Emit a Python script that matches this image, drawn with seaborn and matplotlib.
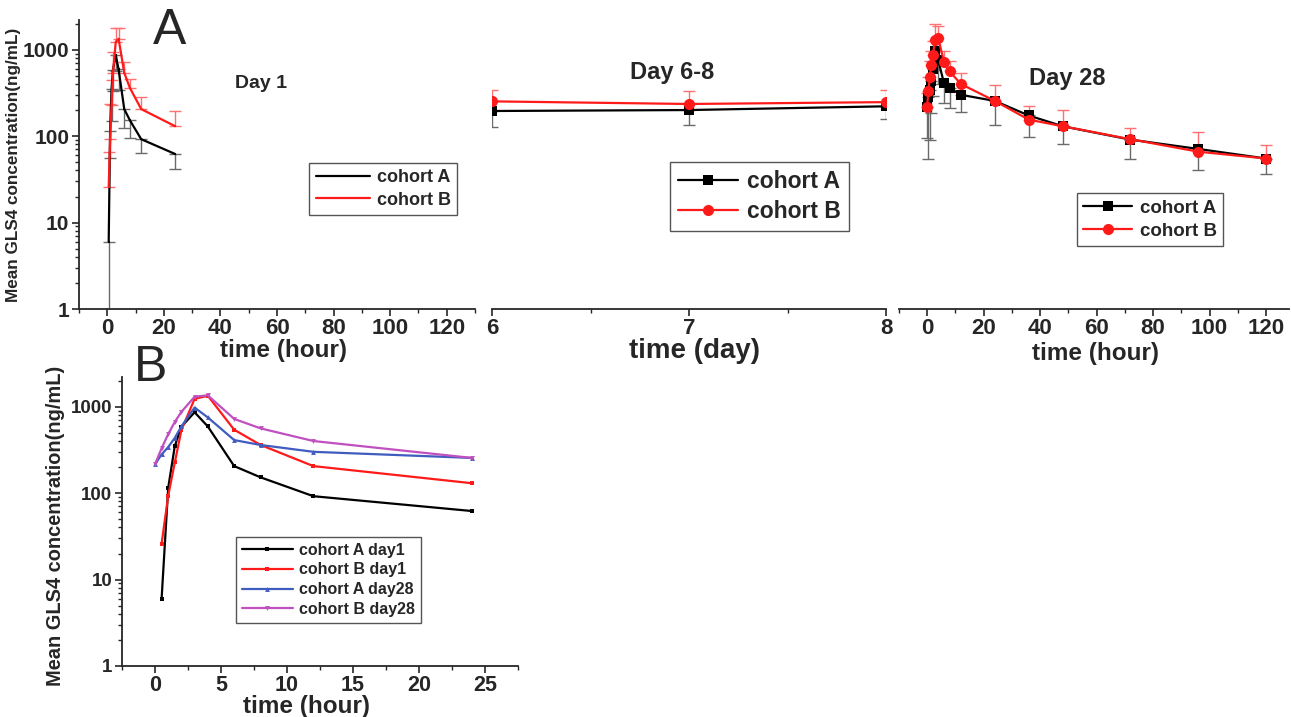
import numpy as np
import pandas as pd
import matplotlib
matplotlib.use("Agg")
import matplotlib.pyplot as plt
import seaborn as sns
from matplotlib.ticker import MultipleLocator, FixedLocator, NullFormatter

# ---------------- data ----------------
day1_time = [0.5, 1, 1.5, 2, 3, 4, 6, 8, 12, 24]
day1_a = [6, 115, 350, 585, 860, 590, 205, 152, 92, 62]
day1_b = [26, 93, 226, 535, 1230, 1335, 540, 360, 205, 130]
day1_a_sd = [5.5, 59, 200, 250, 300, 250, 82, 56, 28, 20]
day1_b_sd = [40, 140, 215, 415, 560, 455, 175, 100, 78, 65]

d68_day = [6, 7, 8]
d68_a = [195, 200, 221]
d68_b = [252, 235, 247]
d68_a_sd = [68, 65, 65]
d68_b_sd = [93, 95, 98]

day28_time = [0, 0.5, 1, 1.5, 2, 3, 4, 6, 8, 12, 24, 36, 48, 72, 96, 120]
day28_a = [215, 280, 340, 435, 590, 975, 750, 410, 360, 300, 255, 173, 130, 91, 71, 55]
day28_b = [215, 330, 480, 665, 870, 1300, 1350, 720, 560, 400, 255, 155, 130, 92, 66, 55]
day28_a_sd = [120, 225, 250, 250, 300, 400, 350, 170, 150, 110, 120, 75, 50, 37, 30, 19]
day28_b_sd = [100, 150, 250, 300, 400, 680, 550, 235, 180, 130, 130, 66, 69, 33, 44, 23]

ytick_vals = [1, 10, 100, 1000]
ytick_labels = ["1", "10", "100", "1000"]
ylabel = "Mean GLS4 concentration(ng/mL)"

# ---------------- style ----------------
sns.set_theme(style="ticks")
plt.rcParams["font.family"] = ["Liberation Sans", "DejaVu Sans"]
plt.rcParams["font.weight"] = "bold"
plt.rcParams["axes.labelweight"] = "bold"
plt.rcParams["axes.linewidth"] = 1.3

BLACK = "#000000"
RED = "#ff1a1a"
BLUE = "#3f5cbf"
PURPLE = "#c050c0"
ERR_K = "#6a6a6a"
ERR_R = "#ff7070"

W, H = 1291, 717
fig = plt.figure(figsize=(W / 100, H / 100), dpi=100)


def fx(px):
    return px / W


def fy(py):
    return 1 - py / H


def make_ax(left_px, right_px, top_px, bottom_px):
    return fig.add_axes([fx(left_px), fy(bottom_px),
                         (right_px - left_px) / W, (bottom_px - top_px) / H])


def style_axis(ax, show_y=True, xsize=16, ysize=15):
    ax.set_yscale("log")
    ax.set_ylim(1, 2200)
    sns.despine(ax=ax, top=True, right=True, left=not show_y)
    ax.tick_params(axis="both", which="major", direction="out", length=5, width=1.2, pad=2)
    ax.tick_params(axis="x", which="major", labelsize=xsize, pad=1.5)
    ax.tick_params(axis="both", which="minor", direction="out", length=3, width=1.0)
    if show_y:
        ax.set_yticks(ytick_vals)
        ax.set_yticklabels(ytick_labels, fontsize=ysize, fontweight="bold")
        ax.yaxis.set_minor_locator(FixedLocator(
            [m * 10 ** e for e in range(0, 4) for m in range(2, 10)]))
        ax.yaxis.set_minor_formatter(NullFormatter())
    else:
        ax.set_yticks([])
        ax.yaxis.set_minor_locator(FixedLocator([]))
    for lab in ax.get_xticklabels():
        lab.set_fontweight("bold")
    ax.set_facecolor("none")


def set_xlabel(ax, text, size, x, y):
    ax.set_xlabel(text, fontsize=size, fontweight="bold")
    ax.xaxis.label.set_va("center")
    ax.xaxis.set_label_coords(x, y)


def err_low(ax, t, v, sd, color):
    ax.errorbar(t, v, yerr=[sd, np.zeros(len(sd))], fmt="none", ecolor=color,
                elinewidth=1.0, capsize=4, capthick=1.0, zorder=1)


def err_up(ax, t, v, sd, color):
    ax.errorbar(t, v, yerr=[np.zeros(len(sd)), sd], fmt="none", ecolor=color,
                elinewidth=1.0, capsize=4, capthick=1.0, zorder=1)


def legend(ax, x, y, size, hl=3.0):
    leg = ax.legend(loc="upper left", bbox_to_anchor=(x, y), fontsize=size,
                    frameon=True, fancybox=False, framealpha=1, edgecolor="#555555",
                    handlelength=hl, borderpad=0.35, labelspacing=0.3,
                    handletextpad=0.4, borderaxespad=0)
    leg.get_frame().set_linewidth(1.0)
    for t in leg.get_texts():
        t.set_fontweight("bold")


# ---------------- Panel A: Day 1 ----------------
ax1 = make_ax(79, 475, 20, 309)
err_low(ax1, day1_time, day1_a, day1_a_sd, ERR_K)
err_up(ax1, day1_time, day1_b, day1_b_sd, ERR_R)
sns.lineplot(x=day1_time, y=day1_a, ax=ax1, color=BLACK, lw=1.6, marker="s",
             markersize=2, markeredgewidth=0, label="cohort A", zorder=3)
sns.lineplot(x=day1_time, y=day1_b, ax=ax1, color=RED, lw=1.6, marker="s",
             markersize=2, markeredgewidth=0, label="cohort B", zorder=3)
ax1.set_xlim(-10, 130)
ax1.xaxis.set_major_locator(MultipleLocator(20))
ax1.xaxis.set_minor_locator(MultipleLocator(10))
style_axis(ax1)
ax1.set_ylabel(ylabel, fontsize=12.3, fontweight="bold")
ax1.yaxis.set_label_coords(-0.147, 0.5)
set_xlabel(ax1, "time (hour)", 17.5, 0.516, -0.142)
legend(ax1, 0.582, 0.505, 13)

# ---------------- Panel A: Day 6-8 ----------------
ax2 = make_ax(492, 886, 20, 309)
err_low(ax2, d68_day, d68_a, d68_a_sd, ERR_K)
err_up(ax2, d68_day, d68_b, d68_b_sd, ERR_R)
sns.lineplot(x=d68_day, y=d68_a, ax=ax2, color=BLACK, lw=1.6, marker="s",
             markersize=7, markeredgewidth=0, label="cohort A", zorder=3)
sns.lineplot(x=d68_day, y=d68_b, ax=ax2, color=RED, lw=1.6, marker="o",
             markersize=8, markeredgewidth=0, label="cohort B", zorder=3)
ax2.set_xlim(6, 8)
ax2.xaxis.set_major_locator(MultipleLocator(1))
ax2.xaxis.set_minor_locator(MultipleLocator(0.5))
style_axis(ax2, show_y=False)
set_xlabel(ax2, "time (day)", 20, 0.515, -0.145)
legend(ax2, 0.452, 0.509, 16.5, hl=2.6)

# ---------------- Panel A: Day 28 ----------------
ax3 = make_ax(898.75, 1288.6, 20, 309)
err_low(ax3, day28_time, day28_a, day28_a_sd, ERR_K)
err_up(ax3, day28_time, day28_b, day28_b_sd, ERR_R)
sns.lineplot(x=day28_time, y=day28_a, ax=ax3, color=BLACK, lw=1.6, marker="s",
             markersize=7, markeredgewidth=0, label="cohort A", zorder=3)
sns.lineplot(x=day28_time, y=day28_b, ax=ax3, color=RED, lw=1.6, marker="o",
             markersize=8, markeredgewidth=0, label="cohort B", zorder=4)
ax3.set_xlim(-10, 128)
ax3.xaxis.set_major_locator(MultipleLocator(20))
ax3.xaxis.set_minor_locator(MultipleLocator(10))
style_axis(ax3, show_y=False)
set_xlabel(ax3, "time (hour)", 17.5, 0.505, -0.155)
legend(ax3, 0.457, 0.401, 13.5, hl=2.6)

# ---------------- Panel B ----------------
axb = make_ax(122, 518, 377, 666)
sns.lineplot(x=day1_time, y=day1_a, ax=axb, color=BLACK, lw=1.6, marker="s",
             markersize=3, markeredgewidth=0, label="cohort A day1")
sns.lineplot(x=day1_time, y=day1_b, ax=axb, color=RED, lw=1.6, marker="s",
             markersize=3, markeredgewidth=0, label="cohort B day1")
sns.lineplot(x=day28_time[:11], y=day28_a[:11], ax=axb, color=BLUE, lw=1.6, marker="^",
             markersize=3.5, markeredgewidth=0, label="cohort A day28")
sns.lineplot(x=day28_time[:11], y=day28_b[:11], ax=axb, color=PURPLE, lw=1.6, marker="v",
             markersize=3.5, markeredgewidth=0, label="cohort B day28")
axb.set_xlim(-2.5, 27.5)
axb.xaxis.set_major_locator(MultipleLocator(5))
axb.xaxis.set_minor_locator(MultipleLocator(2.5))
style_axis(axb, xsize=15.5, ysize=13.5)
axb.set_ylabel(ylabel, fontsize=14.4, fontweight="bold")
axb.yaxis.set_label_coords(-0.144, 0.484)
set_xlabel(axb, "time (hour)", 17.5, 0.467, -0.14)
legend(axb, 0.288, 0.446, 11.5, hl=3.2)

# ---------------- annotations ----------------
fig.text(fx(170), fy(31), "A", fontsize=36, fontweight="normal", ha="center", va="center")
fig.text(fx(151), fy(368), "B", fontsize=36, fontweight="normal", ha="center", va="center")
fig.text(fx(261), fy(83), "Day 1", fontsize=14, fontweight="bold", ha="center", va="center")
fig.text(fx(672), fy(72), "Day 6-8", fontsize=17, fontweight="bold", ha="center", va="center")
fig.text(fx(1067), fy(78), "Day 28", fontsize=17, fontweight="bold", ha="center", va="center")

fig.savefig("out.png", dpi=100, facecolor="white")
